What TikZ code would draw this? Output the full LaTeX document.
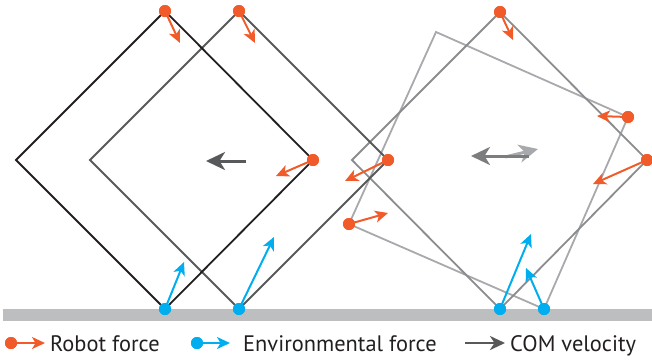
\documentclass[tikz,border=0pt]{standalone}
\usepackage{fontspec}
\setmainfont{PT Sans}
\usetikzlibrary{arrows.meta}
\definecolor{robotc}{HTML}{F15A29}
\definecolor{envc}{HTML}{00AEEF}
\definecolor{groundc}{HTML}{BCBEC0}
\definecolor{inkc}{HTML}{231F20}
\definecolor{darkc}{HTML}{58595B}
\definecolor{midc}{HTML}{8A8C8E}
\definecolor{lightc}{HTML}{A7A9AC}
\begin{document}
\begin{tikzpicture}[x=1pt,y=-1pt,
  frame/.style={line width=1.8pt,line join=miter},
  force/.style={line width=2pt,-{Stealth[length=13pt,width=12pt,inset=3.5pt]}},
  robotf/.style={force,draw=robotc},
  envf/.style={force,draw=envc},
  comf/.style={line width=3pt,-{Stealth[length=19pt,width=18pt,inset=5.5pt]}},
  rdot/.style={circle,fill=robotc,inner sep=0pt,minimum size=12pt},
  bdot/.style={circle,fill=envc,inner sep=0pt,minimum size=12pt},
  legend/.style={anchor=base west,inner sep=0pt,text=inkc,font=\fontsize{22.4}{26}\selectfont}
]
\useasboundingbox (0,0) rectangle (652,360);

% ground
\fill[groundc] (3,309) rectangle (652,321);

% square 1 (upright diamond)
\coordinate (t1) at (165,11);  \coordinate (r1) at (313,160);
\coordinate (b1) at (165,309); \coordinate (l1) at (16,160);
% square 2 (shifted diamond)
\coordinate (t2) at (239,11);  \coordinate (r2) at (388,160);
\coordinate (b2) at (239,309); \coordinate (l2) at (90,160);
% square 3 (diamond on the right)
\coordinate (t3) at (500,12);  \coordinate (r3) at (647,160);
\coordinate (b3) at (500,309); \coordinate (l3) at (352,160);
% square 4 (tilted)
\coordinate (a4) at (436,32);  \coordinate (c4) at (628,117);
\coordinate (b4) at (544,309); \coordinate (d4) at (349,224);

\draw[frame,draw=lightc] (a4) -- (c4) -- (b4) -- (d4) -- cycle;
\draw[frame,draw=midc] (t3) -- (r3) -- (b3) -- (l3) -- cycle;
\draw[frame,draw=darkc] (t2) -- (r2) -- (b2) -- (l2) -- cycle;
\draw[frame,draw=inkc] (t1) -- (r1) -- (b1) -- (l1) -- cycle;

% contact dots
\node[rdot] (p1) at (t1) {};
\node[rdot] (p2) at (t2) {};
\node[rdot] (p3) at (r1) {};
\node[rdot] (p4) at (r2) {};
\node[rdot] (p5) at (t3) {};
\node[rdot] (p6) at (c4) {};
\node[rdot] (p7) at (r3) {};
\node[rdot] (p8) at (d4) {};
\node[bdot] (q1) at (b1) {};
\node[bdot] (q2) at (b2) {};
\node[bdot] (q3) at (b3) {};
\node[bdot] (q4) at (b4) {};

% force tips
\coordinate (f1) at (180,43);
\coordinate (f2) at (255,43);
\coordinate (f3) at (276,176);
\coordinate (f4) at (345,181);
\coordinate (f5) at (513,40);
\coordinate (f6) at (597,116);
\coordinate (f7) at (593,184);
\coordinate (f8) at (388,213);
\coordinate (g1) at (184,262);
\coordinate (g2) at (274,237);
\coordinate (g3) at (531,234);
\coordinate (g4) at (526,268);

\draw[robotf] (p1.center) -- (f1);
\draw[robotf] (p2.center) -- (f2);
\draw[robotf] (p3.center) -- (f3);
\draw[robotf] (p4.center) -- (f4);
\draw[robotf] (p5.center) -- (f5);
\draw[robotf] (p6.center) -- (f6);
\draw[robotf] (p7.center) -- (f7);
\draw[robotf] (p8.center) -- (f8);
\draw[envf] (q1.center) -- (g1);
\draw[envf] (q2.center) -- (g2);
\draw[envf] (q3.center) -- (g3);
\draw[envf] (q4.center) -- (g4);

% redraw dots above arrow tails
\foreach \n in {p1,p2,p3,p4,p5,p6,p7,p8} \fill[robotc] (\n) circle (6pt);
\foreach \n in {q1,q2,q3,q4} \fill[envc] (\n) circle (6pt);

% centre-of-mass velocities
\coordinate (v1s) at (246,161); \coordinate (v1e) at (206,161);
\coordinate (v2s) at (505,157); \coordinate (v2e) at (538,149);
\coordinate (v3s) at (529,156); \coordinate (v3e) at (471,156);
\draw[comf,draw=lightc] (v2s) -- (v2e);
\draw[comf,draw=darkc] (v1s) -- (v1e);
\draw[comf,draw=midc!70!darkc] (v3s) -- (v3e);

% legend
\node[rdot] (lr) at (11,343) {};
\coordinate (lrt) at (45,343);
\draw[robotf] (lr.center) -- (lrt);
\fill[robotc] (lr) circle (6pt);
\node[legend] (lrl) at (50,351) {Robot force};

\node[bdot] (lb) at (197,343) {};
\coordinate (lbt) at (230,343);
\draw[envf] (lb.center) -- (lbt);
\fill[envc] (lb) circle (6pt);
\node[legend] (lbl) at (243,351) {Environmental force};

\coordinate (lcs) at (465,343); \coordinate (lct) at (505,343);
\draw[line width=2.6pt,draw=darkc,-{Stealth[length=15pt,width=14pt,inset=4.5pt]}] (lcs) -- (lct);
\node[legend] (lcl) at (510,351) {COM velocity};
\end{tikzpicture}
\end{document}
